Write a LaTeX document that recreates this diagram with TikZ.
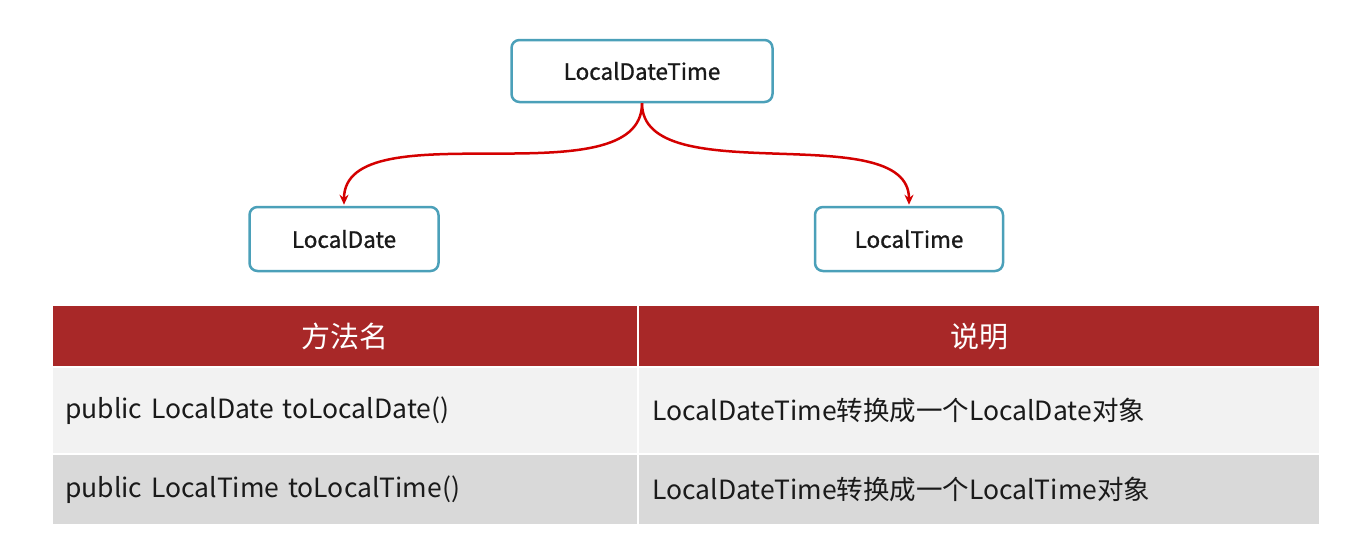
\documentclass[tikz,border=0pt]{standalone}
\usepackage{fontspec}
\setmainfont{Noto Sans CJK SC}
\newfontfamily\boxfont[FakeBold=1]{Noto Sans CJK SC}
\usetikzlibrary{arrows.meta}
\definecolor{boxline}{RGB}{75,160,185}
\definecolor{arrowred}{RGB}{212,0,0}
\definecolor{headred}{RGB}{168,40,40}
\definecolor{rowa}{RGB}{242,242,242}
\definecolor{rowb}{RGB}{217,217,217}
\definecolor{ink}{RGB}{26,26,26}
\tikzstyle{classbox}=[rectangle,draw=boxline,line width=2.5pt,rounded corners=8pt,fill=white,text=ink,font=\boxfont\fontsize{22.5}{26}\selectfont,inner sep=0pt]
\tikzstyle{link}=[draw=arrowred,line width=2.5pt,-{Stealth[length=10pt,width=9pt]},shorten >=1pt]
\tikzstyle{cell}=[rectangle,anchor=north west,inner sep=0pt,font=\fontsize{26.5}{30}\selectfont,text=ink]
\tikzstyle{headcell}=[cell,fill=headred,text=white,align=center,font=\fontsize{29}{33}\selectfont]

\begin{document}
\begin{tikzpicture}[x=1pt,y=-1pt]
    \useasboundingbox (0,0) rectangle (1352,544);
    \node[classbox,minimum width=261pt,minimum height=62pt] (ldt) at (642,71)  {LocalDateTime};
    \node[classbox,minimum width=189pt,minimum height=64pt] (ld)  at (344,239) {LocalDate};
    \node[classbox,minimum width=188pt,minimum height=64pt] (lt)  at (909,239) {LocalTime};

    \foreach \to in {ld,lt}
    \draw[link] (ldt.south) to[out=-90,in=90,looseness=0.8] (\to.north);

    % table
    \node[headcell,minimum width=584pt,minimum height=60pt,text width=584pt] (h1) at (53,306)  {方法名};
    \node[headcell,minimum width=680pt,minimum height=60pt,text width=680pt] (h2) at (639,306) {说明};
    \node[cell,fill=rowa,minimum width=584pt,minimum height=85pt,text width=560pt,inner xsep=12pt,align=left] (r1a) at (53,368)  {public LocalDate toLocalDate()};
    \node[cell,fill=rowa,minimum width=680pt,minimum height=85pt,text width=654pt,inner xsep=13pt,align=left] (r1b) at (639,368) {LocalDateTime转换成一个LocalDate对象};
    \node[cell,fill=rowb,minimum width=584pt,minimum height=69pt,text width=560pt,inner xsep=12pt,align=left] (r2a) at (53,455)  {public LocalTime toLocalTime()};
    \node[cell,fill=rowb,minimum width=680pt,minimum height=69pt,text width=654pt,inner xsep=13pt,align=left] (r2b) at (639,455) {LocalDateTime转换成一个LocalTime对象};
\end{tikzpicture}
\end{document}
